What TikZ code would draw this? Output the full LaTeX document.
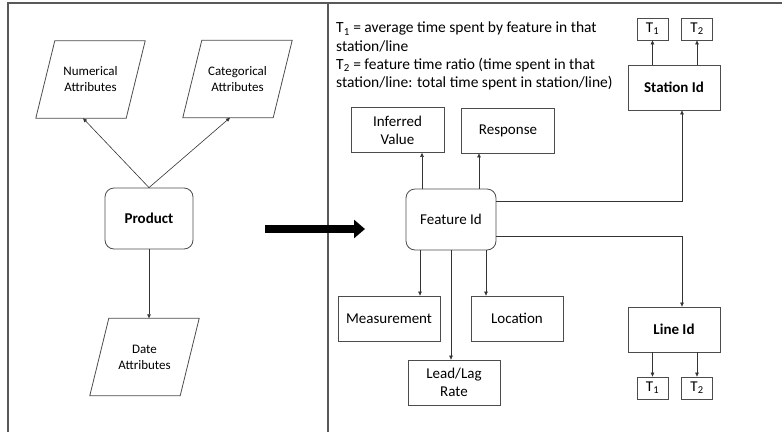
\documentclass[tikz,border=0pt]{standalone}
\usepackage{fontspec}
\setmainfont{Carlito}
\usetikzlibrary{arrows.meta}
\begin{document}
\begin{tikzpicture}[x=1pt,y=-1pt,
  box/.style={draw=black!70,line width=0.8pt,minimum width=92pt,minimum height=45pt,align=center,inner sep=2pt,font=\fontsize{15}{18}\selectfont},
  rbox/.style={box,rounded corners=9pt,minimum width=90pt,minimum height=61pt},
  para/.style={minimum width=90pt,minimum height=77pt,align=center,inner sep=0pt,font=\fontsize{13}{16}\selectfont},
  pline/.style={draw=black!70,line width=0.8pt},
  tbox/.style={draw=black!70,line width=0.8pt,minimum width=31pt,minimum height=22pt,inner sep=0pt,font=\fontsize{15}{18}\selectfont},
  arr/.style={draw=black!80,line width=0.6pt,-{Triangle[length=4pt,width=3.5pt]}}]
\useasboundingbox (0,0) rectangle (782,432);
% frame
\draw[black!65,line width=1.2pt] (8,432) -- (8,3) -- (782,3);
\draw[black!65,line width=1.2pt] (328,3) -- (328,432);
% left panel
\node[para] (num) at (90.5,79.5) {Numerical\\Attributes};
\node[para] (cat) at (237.5,79) {Categorical\\Attributes};
\node[para] (date) at (144.5,357) {Date\\Attributes};
\foreach \n in {num,cat,date}
  \draw[pline] ([xshift=9.5pt]\n.north west) -- ([xshift=9.5pt]\n.north east)
    -- ([xshift=-9.5pt]\n.south east) -- ([xshift=-9.5pt]\n.south west) -- cycle;
\node[rbox,minimum width=88pt,font=\bfseries\fontsize{15}{18}\selectfont] (prod) at (149,218.5) {Product};
\draw[arr] (prod.north) -- ([xshift=-7.5pt]num.south);
\draw[arr] (prod.north) -- ([xshift=-7.5pt]cat.south);
\draw[arr] (prod.south) -- (prod.south |- date.north);
% big arrow
\coordinate (from) at (265,229);
\coordinate (to) at (365,229);
\draw[line width=8pt,-{Triangle[length=11pt,width=18pt]}] (from) -- (to);
% right panel
\node[anchor=north west,align=left,inner sep=0pt,font=\fontsize{15.5}{18.3}\selectfont] (legend) at (336,22) {T\textsubscript{1} = average time spent by feature in that\\station/line\\T\textsubscript{2} = feature time ratio (time spent in that\\station/line: total time spent in station/line)};
\node[box,minimum width=93pt] (inf) at (397.5,130) {Inferred\\Value};
\node[box,minimum width=93pt] (resp) at (508,130.5) {Response};
\node[rbox] (feat) at (451,219.5) {Feature Id};
\node[box,minimum width=102pt] (meas) at (389,318.5) {Measurement};
\node[box] (loc) at (517,318.5) {Location};
\node[box] (lead) at (454,382.5) {Lead/Lag\\Rate};
\node[box,font=\bfseries\fontsize{15}{18}\selectfont] (stat) at (674,87.5) {Station Id};
\node[tbox] (st1) at (652.5,29) {T\textsubscript{1}};
\node[tbox] (st2) at (697,29) {T\textsubscript{2}};
\node[box,font=\bfseries\fontsize{15}{18}\selectfont] (line) at (674,329.5) {Line Id};
\node[tbox] (lt1) at (652.5,388) {T\textsubscript{1}};
\node[tbox] (lt2) at (697,388) {T\textsubscript{2}};
\draw[arr] ([xshift=-29pt]feat.north) -- ([xshift=-29pt]feat.north |- inf.south);
\draw[arr] ([xshift=28pt]feat.north) -- ([xshift=28pt]feat.north |- resp.south);
\draw[arr] ([xshift=-31pt]feat.south) -- ([xshift=-31pt]feat.south |- meas.north);
\draw[arr] (feat.south) -- (feat.south |- lead.north);
\draw[arr] ([xshift=35pt]feat.south) -- ([xshift=35pt]feat.south |- loc.north);
\draw[arr] ([yshift=18pt]feat.east) -| ([xshift=8pt]stat.south);
\draw[arr] ([yshift=-17pt]feat.east) -| ([xshift=8pt]line.north);
\draw[arr] (stat.north -| st1.south) -- (st1.south);
\draw[arr] (stat.north -| st2.south) -- (st2.south);
\draw[arr] (line.south -| lt1.north) -- (lt1.north);
\draw[arr] (line.south -| lt2.north) -- (lt2.north);
\end{tikzpicture}
\end{document}
